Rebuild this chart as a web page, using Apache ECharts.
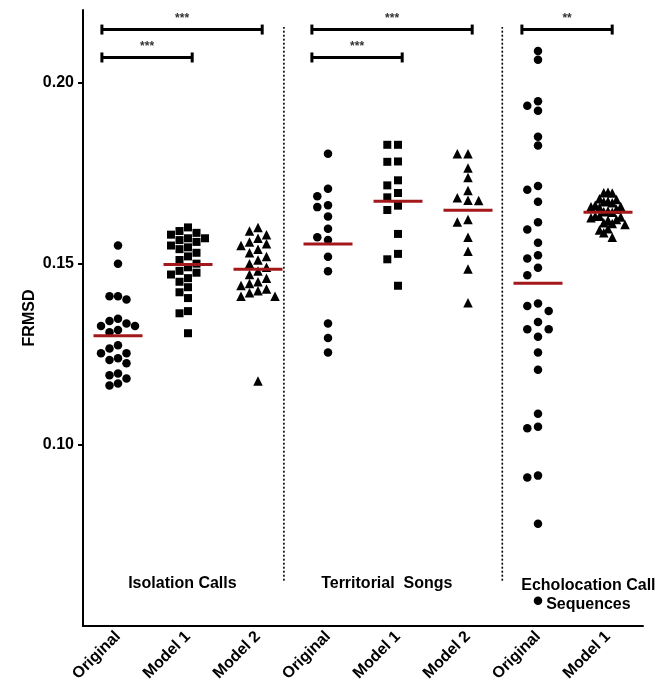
<!DOCTYPE html>
<html><head><meta charset="utf-8">
<script src="https://cdn.jsdelivr.net/npm/echarts@6/dist/echarts.min.js"></script>
<style>html,body{margin:0;padding:0;background:#fff}#c{width:666px;height:691px}</style>
</head><body><div id="c"></div>
<script>
// ---------------- data ----------------
const categories = ['Original','Model 1','Model 2','Original','Model 1','Model 2','Original','Model 1'];
const groupNames = ['Isolation Calls','Territorial  Songs','Echolocation Call\nSequences'];
const yTickValues = [0.10, 0.15, 0.20];

const isoOriginal = [0.155,0.150,0.141,0.1401,0.141,0.1348,0.1342,0.1335,0.1328,0.1328,0.1317,0.1311,
  0.1275,0.1266,0.1253,0.1253,0.1239,0.1234,0.1225,0.1197,0.1192,0.1183,0.1169,0.1164];
const isoModel1 = [0.160,0.159,0.1585,0.158,0.157,0.157,0.1565,0.156,0.155,0.1545,0.154,0.153,0.152,
  0.151,0.150,0.149,0.148,0.1475,0.147,0.146,0.145,0.1435,0.1421,0.1405,0.1369,0.1363,0.1308];
const isoModel2 = [0.160,0.159,0.158,0.157,0.156,0.1555,0.155,0.154,0.153,0.152,0.151,0.150,0.149,
  0.148,0.147,0.146,0.145,0.1445,0.144,0.143,0.1425,0.142,0.141,0.141,0.1176];
const terOriginal = [0.1803,0.1707,0.1686,0.1656,0.1661,0.1630,0.1596,0.1573,0.1565,0.1519,0.1479,0.1335,0.1295,0.1255];
const terModel1 = [0.1828,0.1828,0.1781,0.1782,0.1730,0.1716,0.1695,0.1683,0.1660,0.1648,0.1582,0.1527,0.1512,0.1439];
const terModel2 = [0.1803,0.1803,0.1764,0.1738,0.1702,0.1675,0.1674,0.1682,0.1615,0.1622,0.1573,0.1534,0.1485,0.1392];
const echoOriginal = [0.2087,0.2063,0.1948,0.1936,0.1922,0.1850,0.1826,0.1714,0.1704,0.1671,0.1614,0.1594,
  0.1558,0.1523,0.1514,0.1489,0.1468,0.1390,0.1383,0.1369,0.1339,0.1319,0.1319,0.1298,0.1255,0.1207,
  0.1086,0.1050,0.1046,0.0915,0.0910,0.0782,0.0570];
const echoModel1 = [0.1697,0.1696,0.1695,0.1679,0.1677,0.1672,0.1671,0.1668,0.1661,0.1658,0.1657,0.1655,
  0.1650,0.1645,0.1643,0.1642,0.1631,0.1631,0.1629,0.1627,0.1622,0.1620,0.1613,0.1611,0.1608,
  0.1596,0.1593,0.1585,0.1573];

const groups = [isoOriginal, isoModel1, isoModel2, terOriginal, terModel1, terModel2, echoOriginal, echoModel1];
const symbols = ['circle','rect','triangle','circle','rect','triangle','circle','triangle'];

// significance comparisons: [from category, to category, level, label]
const comparisons = [
  [0, 2, 2, '***'], [0, 1, 1, '***'],
  [3, 5, 2, '***'], [3, 4, 1, '***'],
  [6, 7, 2, '**']
];

// ---------------- layout ----------------
const Y_MIN = 0.05, Y_MAX = 0.22;
const GRID = {left: 83, right: 23, top: 10, bottom: 65};
const plotW = 666 - GRID.left - GRID.right, plotH = 691 - GRID.top - GRID.bottom;
const pxPerX = plotW / 8, pxPerY = plotH / (Y_MAX - Y_MIN);
const levelY = {1: 0.2069, 2: 0.2146};
const dividerAt = [2.37, 5.49];
const dividerSpan = [0.0625, 0.2153];
const groupLabelPos = [[0.92, 0.0616], [3.84, 0.0616], [6.72, 0.0585]];

function swarm(values, center) {
  const diam = 8.6, step = 10.7, maxHalf = 17;
  const order = values.map((v, i) => i).sort((a, b) => values[b] - values[a]);
  const placed = [];
  order.forEach(i => {
    const v = values[i];
    for (let k = 0; k < 40; k++) {
      const off = k === 0 ? 0 : (k % 2 ? -Math.ceil(k / 2) : Math.ceil(k / 2));
      const xp = off * step;
      if (placed.every(p => Math.hypot(p.x - xp, (p.v - v) * pxPerY) >= diam)) {
        placed.push({x: xp, v});
        break;
      }
    }
  });
  const widest = Math.max(...placed.map(p => Math.abs(p.x)));
  const f = widest > maxHalf ? maxHalf / widest : 1;
  return placed.map(p => [center + p.x * f / pxPerX, p.v]);
}
const mean = a => a.reduce((s, v) => s + v, 0) / a.length;

const FONT = '"Liberation Sans", Arial, sans-serif';
const series = [];
groups.forEach((g, i) => {
  series.push({
    type: 'scatter', xAxisIndex: 1, yAxisIndex: 0,
    symbol: symbols[i],
    symbolSize: symbols[i] === 'triangle' ? 9.5 : (symbols[i] === 'rect' ? 8 : 8.5),
    itemStyle: {color: '#000', opacity: 1},
    data: swarm(g, i), z: 3, silent: true
  });
});
// mean lines
series.push({
  type: 'custom', xAxisIndex: 1, yAxisIndex: 0, z: 5, silent: true,
  data: groups.map((g, i) => [i, mean(g)]),
  renderItem(params, api) {
    const a = api.coord([api.value(0) - 0.35, api.value(1)]);
    const b = api.coord([api.value(0) + 0.35, api.value(1)]);
    return {type: 'line', shape: {x1: a[0], y1: a[1], x2: b[0], y2: b[1]},
      style: {stroke: '#a3191b', lineWidth: 3}};
  }
});
// significance brackets
series.push({
  type: 'custom', xAxisIndex: 1, yAxisIndex: 0, z: 5, silent: true, clip: false,
  data: comparisons.map(c => [c[0] - 0.23, c[1] + 0.06, levelY[c[2]], c[3]]),
  encode: {x: [0, 1], y: 2},
  renderItem(params, api) {
    const y = api.value(2);
    const a = api.coord([api.value(0), y]);
    const b = api.coord([api.value(1), y]);
    const lbl = comparisons[params.dataIndex][3];
    return {type: 'group', children: [
      {type: 'line', shape: {x1: a[0], y1: a[1], x2: b[0], y2: b[1]}, style: {stroke: '#000', lineWidth: 3}},
      {type: 'line', shape: {x1: a[0], y1: a[1] - 5, x2: a[0], y2: a[1] + 5}, style: {stroke: '#000', lineWidth: 3}},
      {type: 'line', shape: {x1: b[0], y1: b[1] - 5, x2: b[0], y2: b[1] + 5}, style: {stroke: '#000', lineWidth: 3}},
      {type: 'text', x: (a[0] + b[0]) / 2, y: a[1] - 5,
        style: {text: lbl, textAlign: 'center', textVerticalAlign: 'bottom',
          font: 'bold 12px ' + FONT, fill: '#333'}}
    ]};
  }
});
// dotted dividers
series.push({
  type: 'custom', xAxisIndex: 1, yAxisIndex: 0, z: 2, silent: true,
  data: dividerAt.map(x => [x, dividerSpan[0], dividerSpan[1]]),
  encode: {x: 0, y: [1, 2]},
  renderItem(params, api) {
    const a = api.coord([api.value(0), api.value(1)]);
    const b = api.coord([api.value(0), api.value(2)]);
    return {type: 'line', shape: {x1: a[0], y1: a[1], x2: b[0], y2: b[1]},
      style: {stroke: '#000', lineWidth: 1.6, lineDash: [2, 2]}};
  }
});
// group labels
series.push({
  type: 'custom', xAxisIndex: 1, yAxisIndex: 0, z: 4, silent: true,
  data: groupLabelPos.map(p => [p[0], p[1]]),
  renderItem(params, api) {
    const p = api.coord([api.value(0), api.value(1)]);
    return {type: 'text', x: p[0], y: p[1],
      style: {text: groupNames[params.dataIndex], textAlign: 'center', textVerticalAlign: 'middle',
        font: 'bold 16px ' + FONT, fill: '#000', lineHeight: 19}};
  }
});

const chart = echarts.init(document.getElementById('c'), null, {renderer: 'canvas'});
chart.setOption({
  animation: false,
  backgroundColor: '#fff',
  grid: GRID,
  xAxis: [{
    type: 'category', data: categories, boundaryGap: true,
    axisLine: {onZero: false, lineStyle: {color: '#000', width: 2}},
    axisTick: {alignWithLabel: true, length: 6, lineStyle: {color: '#000', width: 2}},
    axisLabel: {rotate: 45, color: '#000', fontFamily: FONT, fontWeight: 'bold', fontSize: 16, margin: 8, interval: 0},
    splitLine: {show: false}
  }, {
    type: 'value', min: -0.5, max: 7.5, show: false,
    axisLine: {onZero: false}
  }],
  yAxis: [{
    type: 'value', min: Y_MIN, max: Y_MAX,
    name: 'FRMSD', nameLocation: 'middle', nameRotate: 90, nameGap: 45, nameMoveOverlap: false,
    nameTextStyle: {color: '#000', fontFamily: FONT, fontWeight: 'bold', fontSize: 16},
    axisLine: {show: true, onZero: false, lineStyle: {color: '#000', width: 2}},
    axisTick: {show: true, length: 5, customValues: yTickValues, lineStyle: {color: '#000', width: 2}},
    axisLabel: {customValues: yTickValues, formatter: v => v.toFixed(2), color: '#000',
      fontFamily: FONT, fontWeight: 'bold', fontSize: 16, margin: 9},
    splitLine: {show: false}
  }],
  series
});
</script>
</body></html>
